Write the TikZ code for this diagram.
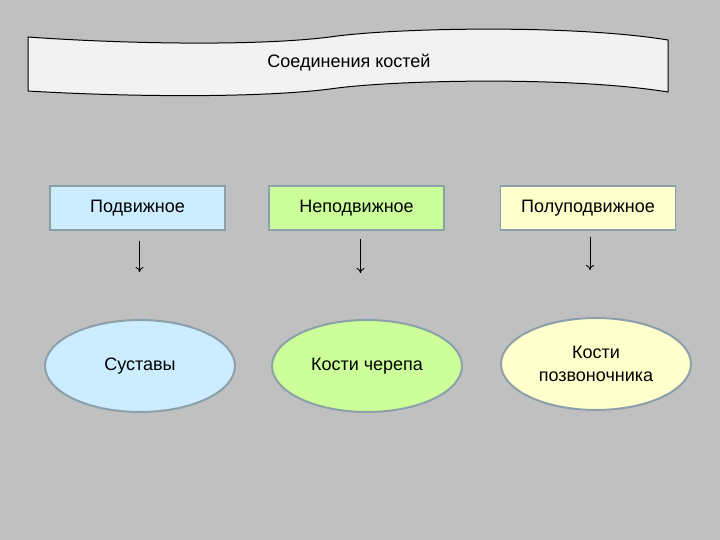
\documentclass[tikz,border=0pt]{standalone}
\usepackage{fontspec}
\setmainfont{Liberation Sans}
\usetikzlibrary{shapes.geometric,arrows.meta}

\definecolor{bggray}{RGB}{192,192,192}
\definecolor{bannerfill}{RGB}{242,242,242}
\definecolor{edgegray}{RGB}{140,160,170}
\definecolor{fillblue}{RGB}{204,236,255}
\definecolor{fillgreen}{RGB}{204,255,153}
\definecolor{fillyellow}{RGB}{255,255,204}

\begin{document}
\begin{tikzpicture}[x=1pt, y=-1pt,
    every node/.style={font=\fontsize{18}{23}\selectfont},
    kind/.style={draw=edgegray, line width=1.5pt, minimum width=175pt, minimum height=44pt},
    result/.style={ellipse, draw=edgegray, line width=2pt, minimum width=190pt, minimum height=92pt, align=center},
    arrow/.style={-{To[length=5pt,width=8pt]}, line width=0.9pt}]
    % Background
    \fill[bggray] (0, 0) rectangle (720, 540);
    \useasboundingbox (0, 0) rectangle (720, 540);

    % Banner
    \draw[fill=bannerfill, line width=1pt] (28, 37) .. controls (110, 43) and (250, 47) .. (330, 37)
        .. controls (390, 28) and (570, 24) .. (668, 40) -- (668, 92)
        .. controls (570, 76) and (390, 80) .. (330, 89)
        .. controls (250, 99) and (110, 96) .. (28, 91) -- cycle;
    \node (title) at (349, 63) {Соединения костей};

    % Kinds of joints
    \node[kind, fill=fillblue] (mobile) at (137.5, 208) {Подвижное};
    \node[kind, fill=fillgreen] (fixed) at (356.5, 208) {Неподвижное};
    \node[kind, fill=fillyellow] (semi) at (588, 208) {Полуподвижное};

    % Examples
    \node[result, fill=fillblue] (joints) at (140, 366) {Суставы};
    \node[result, fill=fillgreen] (skull) at (367, 366) {Кости черепа};
    \node[result, fill=fillyellow] (spine) at (596, 364) {Кости\\позвоночника};

    % Arrows
    \draw[arrow, shorten <=10pt, shorten >=47pt] ([xshift=2pt]mobile.south) -- ([xshift=2pt]mobile.south |- joints.north);
    \draw[arrow, shorten <=8pt, shorten >=46pt] ([xshift=4pt]fixed.south) -- ([xshift=4pt]fixed.south |- skull.north);
    \draw[arrow, shorten <=6pt, shorten >=47pt] ([xshift=2pt]semi.south) -- ([xshift=2pt]semi.south |- spine.north);
\end{tikzpicture}
\end{document}
